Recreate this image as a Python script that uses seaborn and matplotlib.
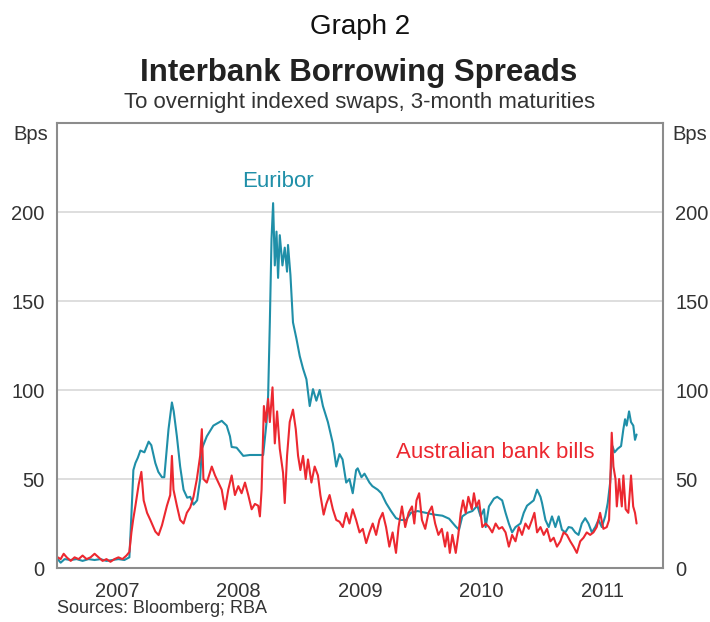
import numpy as np
import pandas as pd
import seaborn as sns
import matplotlib.pyplot as plt

# Euribor spread to OIS (bps), decimal years
euribor_year = [2007.006, 2007.030, 2007.063, 2007.113, 2007.162, 2007.211, 2007.260, 2007.310,
                2007.359, 2007.408, 2007.458, 2007.507, 2007.556, 2007.597, 2007.614, 2007.630,
                2007.647, 2007.667, 2007.688, 2007.721, 2007.756, 2007.778, 2007.811, 2007.836,
                2007.866, 2007.885, 2007.920, 2007.948, 2007.963, 2007.989, 2008.016, 2008.044,
                2008.074, 2008.099, 2008.126, 2008.156, 2008.181, 2008.195, 2008.236, 2008.290,
                2008.359, 2008.400, 2008.427, 2008.441, 2008.482, 2008.537, 2008.592, 2008.647,
                2008.701, 2008.729, 2008.742, 2008.756, 2008.770, 2008.783, 2008.797, 2008.811,
                2008.824, 2008.838, 2008.860, 2008.879, 2008.898, 2008.906, 2008.926, 2008.947,
                2008.975, 2009.003, 2009.030, 2009.058, 2009.085, 2009.112, 2009.140, 2009.167,
                2009.194, 2009.235, 2009.276, 2009.304, 2009.331, 2009.356, 2009.386, 2009.413,
                2009.440, 2009.468, 2009.481, 2009.512, 2009.537, 2009.578, 2009.602, 2009.646,
                2009.676, 2009.715, 2009.756, 2009.797, 2009.838, 2009.879, 2009.920, 2009.975,
                2010.044, 2010.112, 2010.180, 2010.235, 2010.290, 2010.317, 2010.344, 2010.385,
                2010.427, 2010.468, 2010.495, 2010.523, 2010.537, 2010.564, 2010.605, 2010.632,
                2010.673, 2010.701, 2010.728, 2010.755, 2010.783, 2010.824, 2010.851, 2010.878,
                2010.906, 2010.933, 2010.961, 2010.989, 2011.002, 2011.030, 2011.057, 2011.084,
                2011.112, 2011.139, 2011.166, 2011.194, 2011.221, 2011.248, 2011.276, 2011.303,
                2011.330, 2011.358, 2011.385, 2011.413, 2011.441, 2011.468, 2011.495, 2011.523,
                2011.544, 2011.564, 2011.583, 2011.600, 2011.626, 2011.654, 2011.673, 2011.687,
                2011.700, 2011.720, 2011.736, 2011.755, 2011.769, 2011.782]
euribor_bps = [5, 3, 5, 4.5, 5, 4, 5, 4.5,
               5, 4, 4.5, 5, 4.5, 6, 30, 55,
               59, 62, 66, 65, 71, 69, 59, 54,
               51, 51, 78, 93, 88, 74, 57, 44,
               39.5, 40, 35.6, 38, 50, 67, 74, 80,
               82.7, 80, 74, 68, 67.6, 63, 63.5, 63.5,
               63.5, 82, 97, 138, 185, 205, 170, 189,
               163, 187, 170, 180, 166.5, 181.5, 164.6, 138,
               129, 119, 112, 106, 91, 100.5, 94, 100,
               91, 82, 70, 57, 64, 61, 48, 50,
               42, 55, 56, 51, 53, 48, 46, 44,
               42, 36.5, 32, 28, 27, 27, 31, 32,
               31, 30, 29.4, 27.7, 23.3, 21.5, 29, 31,
               32, 35, 29, 33, 23, 34.6, 39, 40,
               38, 31, 25, 20, 23, 25, 31, 35,
               36.5, 38, 44, 40, 36.5, 27, 23, 29,
               23, 29, 21.5, 20, 23, 22.6, 20, 18.6,
               25, 28, 25, 20, 23, 27, 23, 29,
               36.5, 48, 68.5, 65, 67, 68.5, 78, 83.6,
               80, 88, 82, 80, 72, 75]

# Australian bank bills spread to OIS (bps), decimal years
aus_year = [2007.006, 2007.030, 2007.055, 2007.080, 2007.113, 2007.145, 2007.178, 2007.211,
            2007.244, 2007.277, 2007.310, 2007.343, 2007.376, 2007.408, 2007.441, 2007.474,
            2007.507, 2007.540, 2007.573, 2007.597, 2007.614, 2007.628, 2007.647, 2007.674,
            2007.696, 2007.715, 2007.743, 2007.770, 2007.811, 2007.838, 2007.866, 2007.907,
            2007.934, 2007.948, 2007.961, 2007.989, 2008.016, 2008.044, 2008.071, 2008.099,
            2008.126, 2008.154, 2008.181, 2008.195, 2008.208, 2008.236, 2008.277, 2008.304,
            2008.331, 2008.359, 2008.386, 2008.413, 2008.441, 2008.468, 2008.496, 2008.523,
            2008.551, 2008.578, 2008.606, 2008.633, 2008.660, 2008.674, 2008.688, 2008.707,
            2008.723, 2008.742, 2008.756, 2008.778, 2008.797, 2008.816, 2008.838, 2008.865,
            2008.879, 2008.898, 2008.920, 2008.947, 2008.970, 2008.989, 2009.008, 2009.030,
            2009.052, 2009.071, 2009.099, 2009.126, 2009.153, 2009.173, 2009.200, 2009.222,
            2009.249, 2009.276, 2009.304, 2009.331, 2009.358, 2009.386, 2009.413, 2009.440,
            2009.468, 2009.496, 2009.523, 2009.551, 2009.578, 2009.605, 2009.633, 2009.660,
            2009.687, 2009.715, 2009.742, 2009.769, 2009.797, 2009.818, 2009.846, 2009.873,
            2009.901, 2009.929, 2009.948, 2009.966, 2009.988, 2010.011, 2010.038, 2010.065,
            2010.093, 2010.120, 2010.147, 2010.175, 2010.202, 2010.221, 2010.241, 2010.262,
            2010.290, 2010.311, 2010.331, 2010.350, 2010.372, 2010.394, 2010.422, 2010.440,
            2010.459, 2010.482, 2010.509, 2010.537, 2010.564, 2010.591, 2010.619, 2010.646,
            2010.673, 2010.701, 2010.728, 2010.755, 2010.783, 2010.810, 2010.837, 2010.865,
            2010.892, 2010.919, 2010.939, 2010.961, 2010.989, 2011.016, 2011.043, 2011.071,
            2011.098, 2011.125, 2011.153, 2011.180, 2011.207, 2011.235, 2011.262, 2011.289,
            2011.317, 2011.344, 2011.371, 2011.399, 2011.426, 2011.453, 2011.481, 2011.508,
            2011.536, 2011.555, 2011.577, 2011.591, 2011.608, 2011.619, 2011.638, 2011.660,
            2011.673, 2011.692, 2011.714, 2011.736, 2011.754, 2011.769, 2011.782]
aus_bps = [6, 5, 8, 6, 4, 6, 5, 7,
           5, 6, 8, 6, 4, 5, 3.5, 5,
           6, 5, 7, 9, 20, 27, 35, 47,
           54, 38, 31, 27, 20.5, 18.5, 24, 35,
           41, 63, 44, 35, 27, 25, 31, 34,
           40, 50, 63, 78, 50, 48, 57, 52,
           48, 44, 33, 44, 52, 41, 46, 42,
           48, 41, 33, 36, 35, 29, 44, 91,
           82, 95, 82, 101.5, 70, 88, 67, 53.5,
           36.5, 63, 82, 89, 78, 63, 55, 63,
           50, 61, 48, 57, 52, 41, 30, 36,
           41, 33, 27, 26, 23, 31, 25, 33,
           27, 20, 22, 14, 20, 25, 18.6, 27,
           31, 23, 12, 20, 8.5, 23, 34.6, 23,
           31, 34.6, 25, 38, 42, 27, 22, 31,
           34.6, 25, 18.6, 22, 12, 20, 8.5, 18.6,
           8.5, 18.6, 31, 38, 31, 40, 33, 42,
           34.6, 38, 23, 25, 23, 20, 25, 22,
           23, 20, 12, 18.6, 15, 23, 18.6, 25,
           22, 27, 31, 20, 23, 18.6, 22, 15,
           17, 12, 15, 20, 18.6, 15, 12, 8.5,
           15, 17, 20, 18.6, 20, 23, 31, 22,
           23, 27, 76, 57, 50, 34.6, 50, 34.6,
           52, 33, 31, 52, 34.6, 31, 25]

year_labels = ['2007', '2008', '2009', '2010', '2011']
y_ticks = [0, 50, 100, 150, 200]

teal = '#1f8fa8'
red = '#ec2830'

df = pd.concat([
    pd.DataFrame({'year': euribor_year, 'bps': euribor_bps, 'series': 'Euribor'}),
    pd.DataFrame({'year': aus_year, 'bps': aus_bps, 'series': 'Australian bank bills'}),
])

sns.set_style('white')
plt.rcParams['font.family'] = ['Liberation Sans', 'DejaVu Sans']

fig = plt.figure(figsize=(7.1, 6.22), dpi=100)
ax = fig.add_axes([0.0803, 0.0868, 0.8535, 0.7154])

sns.lineplot(data=df, x='year', y='bps', hue='series', palette={'Euribor': teal, 'Australian bank bills': red},
             hue_order=['Euribor', 'Australian bank bills'], estimator=None, sort=False,
             linewidth=1.5, legend=False, ax=ax)

ax.set_xlim(2007, 2012)
ax.set_ylim(0, 250)
ax.set_xlabel('')
ax.set_ylabel('')

for v in [50, 100, 150, 200]:
    ax.axhline(v, color='#d8d8d8', lw=1.2, zorder=0)

ax.set_yticks(y_ticks)
ax.tick_params(axis='y', length=0, labelsize=14.5, colors='#333333', pad=9, labelright=True)
ax.set_xticks([2007.5, 2008.5, 2009.5, 2010.5, 2011.5])
ax.set_xticklabels(year_labels)
ax.set_xticks([2008, 2009, 2010, 2011], minor=True)
ax.tick_params(axis='x', which='major', length=0, labelsize=14.5, colors='#333333', pad=10)
ax.tick_params(axis='x', which='minor', direction='in', length=4, width=1, color='#999999')

for s in ax.spines.values():
    s.set_color('#8c8c8c')
    s.set_linewidth(1.5)

ax.text(-0.015, 0.975, 'Bps', transform=ax.transAxes, ha='right', va='center', fontsize=14.5, color='#333333')
ax.text(1.015, 0.975, 'Bps', transform=ax.transAxes, ha='left', va='center', fontsize=14.5, color='#333333')

ax.text(2008.82, 217, 'Euribor', color=teal, fontsize=16, ha='center', va='center')
ax.text(2010.62, 65, 'Australian bank bills', color=red, fontsize=16, ha='center', va='center')

fig.text(0.507, 0.956, 'Graph 2', ha='center', va='center', fontsize=20, color='#111111')
fig.text(0.505, 0.883, 'Interbank Borrowing Spreads', ha='center', va='center', fontsize=22.5,
         fontweight='bold', color='#222222')
fig.text(0.506, 0.836, 'To overnight indexed swaps, 3-month maturities', ha='center', va='center',
         fontsize=16, color='#333333')
fig.text(0.080, 0.022, 'Sources: Bloomberg; RBA', ha='left', va='center', fontsize=13, color='#333333')

fig.savefig('out.png', dpi=100)
